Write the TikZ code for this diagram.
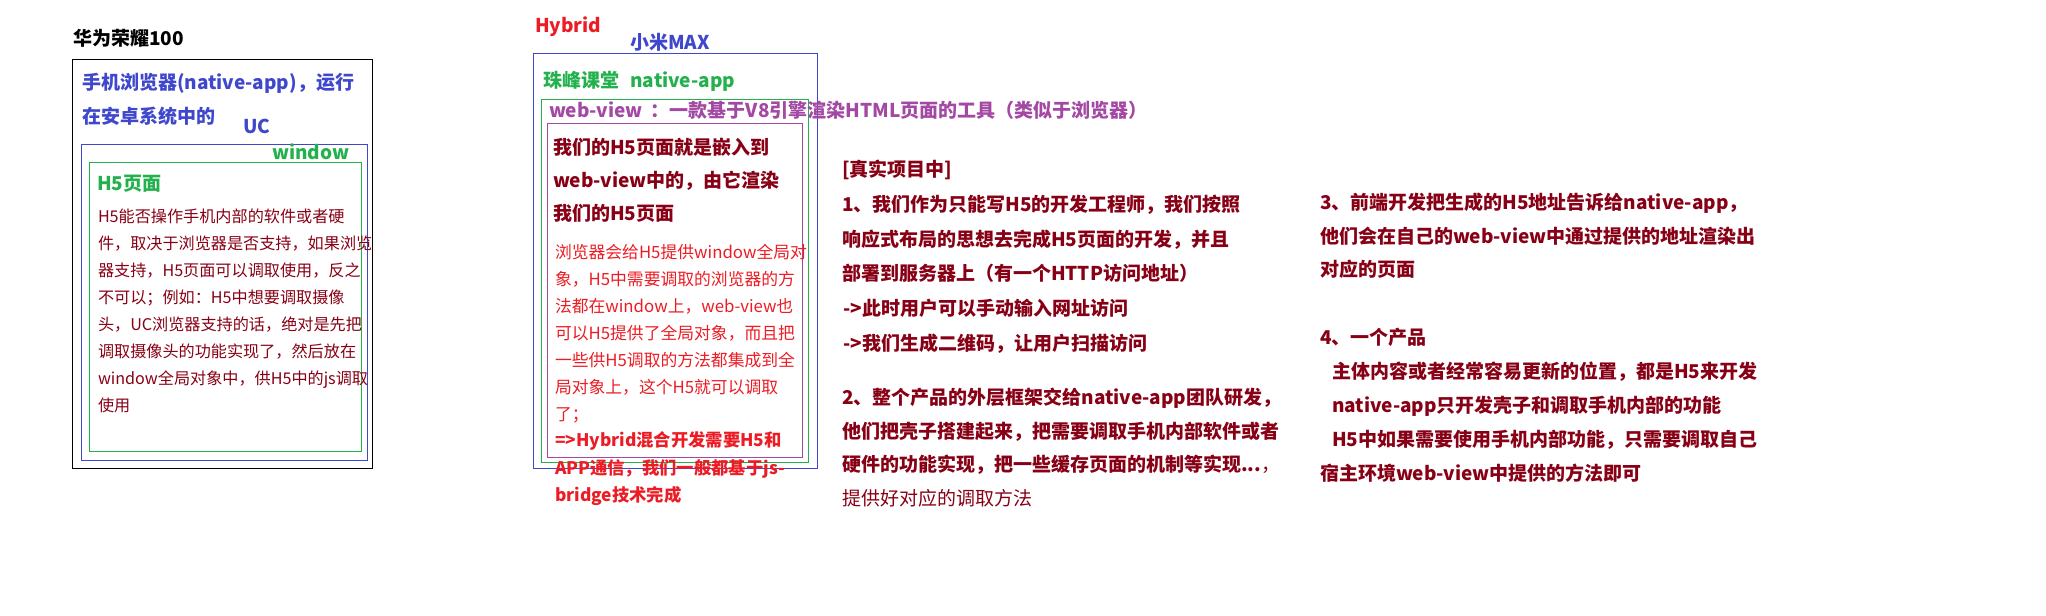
\documentclass[tikz,border=0pt]{standalone}
\usepackage{fontspec}
\setmainfont{Noto Sans CJK SC}
\definecolor{pblue}{HTML}{3F48CC}
\definecolor{pgreen}{HTML}{22B14C}
\definecolor{ppurple}{HTML}{A349A4}
\definecolor{pred}{HTML}{ED1C24}
\definecolor{pdark}{HTML}{880015}
\begin{document}
\begin{tikzpicture}[x=0.75pt,y=-0.75pt,
  every node/.style={inner sep=0pt, outer sep=0pt, anchor=north west, align=left},
  hb/.style={font=\fontsize{14.25}{25.5}\selectfont\bfseries},
  bodyl/.style={font=\fontsize{12.1}{20.25}\selectfont},
  bodym/.style={font=\fontsize{12.6}{20.25}\selectfont},
  bodyb/.style={font=\fontsize{13}{20.6}\selectfont\bfseries},
  frame/.style={line width=0.75pt}]
\useasboundingbox[fill=white] (0,0) rectangle (2046,615);

% ---------- left: phone browser ----------
\node[hb, text=black] (title1) at (73,29) {华为荣耀100};
\draw[frame, black] (72,59) rectangle (372,468);
\node[hb, text=pblue] (browser) at (82,73) {手机浏览器(native-app)，运行\\在安卓系统中的};
\node[hb, text=pblue] (uc) at (243,119) {UC};
\draw[frame, pblue] (81,144) rectangle (367,460);
\node[hb, text=pgreen] (win1) at (272,144) {window};
\draw[frame, pgreen] (89,162) rectangle (361,451);
\node[hb, text=pgreen] (h5page) at (97,175) {H5页面};
\node[bodyl, text=pdark] (leftbody) at (98,209) {H5能否操作手机内部的软件或者硬\\
件，取决于浏览器是否支持，如果浏览\\
器支持，H5页面可以调取使用，反之\\
不可以；例如：H5中想要调取摄像\\
头，UC浏览器支持的话，绝对是先把\\
调取摄像头的功能实现了，然后放在\\
window全局对象中，供H5中的js调取\\
使用};

% ---------- middle: hybrid ----------
\node[hb, text=pred] (hybrid) at (535,17) {Hybrid};
\node[hb, text=pblue] (xiaomi) at (630,33) {小米MAX};
\draw[frame, pblue] (533,53) rectangle (817,468);
\node[hb, text=pgreen] (native) at (543,71) {珠峰课堂\hspace{0.6em}native-app};
\draw[frame, pgreen] (541,99) rectangle (808,462);
\node[hb, text=ppurple] (webview) at (549,101) {web-view\hspace{0.45em}：一款基于V8引擎渲染HTML页面的工具（类似于浏览器）};
\draw[frame, ppurple] (547,123) rectangle (802,457);
\node[font=\fontsize{14.25}{24.75}\selectfont\bfseries, text=pdark] (embed) at (553,138) {我们的H5页面就是嵌入到\\web-view中的，由它渲染\\我们的H5页面};
\node[bodym, text=pred] (midbody) at (555,244) {浏览器会给H5提供window全局对\\
象，H5中需要调取的浏览器的方\\
法都在window上，web-view也\\
可以H5提供了全局对象，而且把\\
一些供H5调取的方法都集成到全\\
局对象上，这个H5就可以调取\\
了；};
\node[bodyb, text=pred] (bridge) at (555,432) {=>Hybrid混合开发需要H5和\\APP通信，我们一般都基于js-\\bridge技术完成};

% ---------- right column 1 ----------
\node[font=\fontsize{14.25}{26.1}\selectfont\bfseries, text=pdark] (real) at (842,160) {[真实项目中]\\
1、我们作为只能写H5的开发工程师，我们按照\\
响应式布局的思想去完成H5页面的开发，并且\\
部署到服务器上（有一个HTTP访问地址）\\
\hspace{1pt}->此时用户可以手动输入网址访问\\
\hspace{1pt}->我们生成二维码，让用户扫描访问};
\node[font=\fontsize{14.25}{25.3}\selectfont, text=pdark] (p2) at (842,388) {\textbf{2、整个产品的外层框架交给native-app团队研发，}\\
\textbf{他们把壳子搭建起来，把需要调取手机内部软件或者}\\
\textbf{硬件的功能实现，把一些缓存页面的机制等实现...}，\\
提供好对应的调取方法};

% ---------- right column 2 ----------
\node[font=\fontsize{14.25}{25.1}\selectfont\bfseries, text=pdark] (p3) at (1320,193) {3、前端开发把生成的H5地址告诉给native-app，\\
他们会在自己的web-view中通过提供的地址渲染出\\
对应的页面};
\node[font=\fontsize{14.25}{25.5}\selectfont\bfseries, text=pdark] (p4) at (1320,328) {4、一个产品\\
\hspace{9pt}主体内容或者经常容易更新的位置，都是H5来开发\\
\hspace{9pt}native-app只开发壳子和调取手机内部的功能\\
\hspace{9pt}H5中如果需要使用手机内部功能，只需要调取自己\\
宿主环境web-view中提供的方法即可};
\end{tikzpicture}
\end{document}
